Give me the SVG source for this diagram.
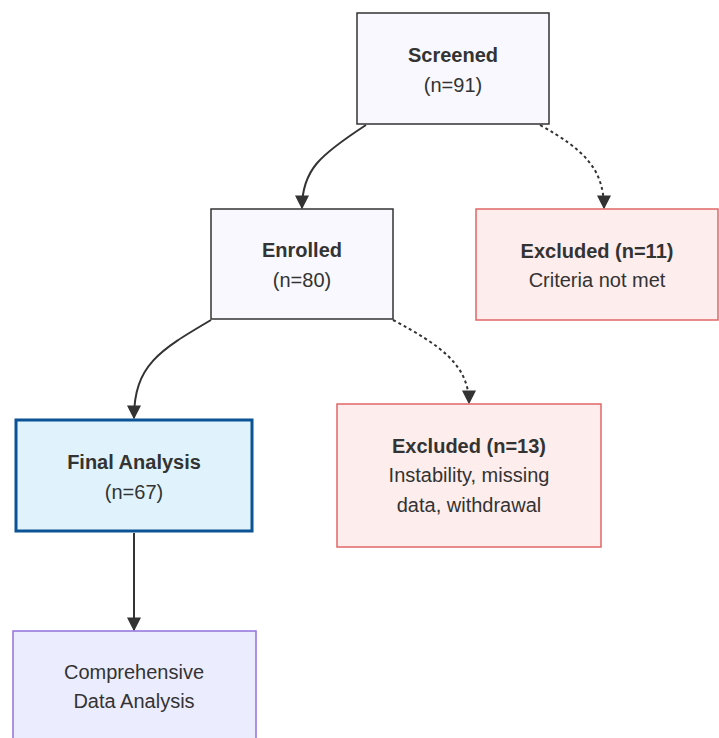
<svg xmlns="http://www.w3.org/2000/svg" width="719" height="738" viewBox="0 0 719 738">
<defs>
<marker id="arr" viewBox="0 0 10 10" refX="9" refY="5" markerWidth="14" markerHeight="14" markerUnits="userSpaceOnUse" orient="auto">
<path d="M0,0 L10,5 L0,10 z" fill="#333"/>
</marker>
<style>
text{font-family:"Liberation Sans",Arial,sans-serif;font-size:20px;fill:#333;text-anchor:middle}
.b{font-weight:bold}
.gray{fill:#f8f8fe;stroke:#333;stroke-width:1.5}
.red{fill:#fdeded;stroke:#e06666;stroke-width:1.5}
.blue{fill:#e0f3fc;stroke:#0b5394;stroke-width:3}
.purple{fill:#ececff;stroke:#9370db;stroke-width:1.5}
.edge{fill:none;stroke:#333;stroke-width:2}
.dot{fill:none;stroke:#333;stroke-width:2;stroke-dasharray:3 3}
</style>
</defs>
<rect width="719" height="738" fill="#ffffff"/>
<g id="connectors">
<path class="edge" d="M366,125 C320,155 302,170 302,208" marker-end="url(#arr)"/>
<path class="dot" d="M540,125 C585,150 604,170 604,208" marker-end="url(#arr)"/>
<path class="edge" d="M211,320 C160,350 134,365 134,418" marker-end="url(#arr)"/>
<path class="dot" d="M393,320 C440,345 469,365 469,403" marker-end="url(#arr)"/>
<path class="edge" d="M134,533 L134,630" marker-end="url(#arr)"/>
</g>
<g id="screened">
<rect class="gray" x="357" y="13" width="192" height="111"/>
<text class="b" x="453" y="62">Screened</text>
<text x="453" y="92">(n=91)</text>
</g>
<g id="excluded11">
<rect class="red" x="476" y="209" width="242" height="111"/>
<text class="b" x="597" y="258">Excluded (n=11)</text>
<text x="597" y="287">Criteria not met</text>
</g>
<g id="enrolled">
<rect class="gray" x="211" y="209" width="182" height="110"/>
<text class="b" x="302" y="257">Enrolled</text>
<text x="302" y="287">(n=80)</text>
</g>
<g id="final">
<rect class="blue" x="16" y="420" width="236" height="111"/>
<text class="b" x="134" y="469">Final Analysis</text>
<text x="134" y="499">(n=67)</text>
</g>
<g id="excluded13">
<rect class="red" x="337" y="404" width="264" height="143"/>
<text class="b" x="469" y="453">Excluded (n=13)</text>
<text x="469" y="482">Instability, missing</text>
<text x="469" y="512">data, withdrawal</text>
</g>
<g id="comprehensive">
<rect class="purple" x="13" y="631" width="243" height="120"/>
<text x="134" y="679">Comprehensive</text>
<text x="134" y="708">Data Analysis</text>
</g>
</svg>
